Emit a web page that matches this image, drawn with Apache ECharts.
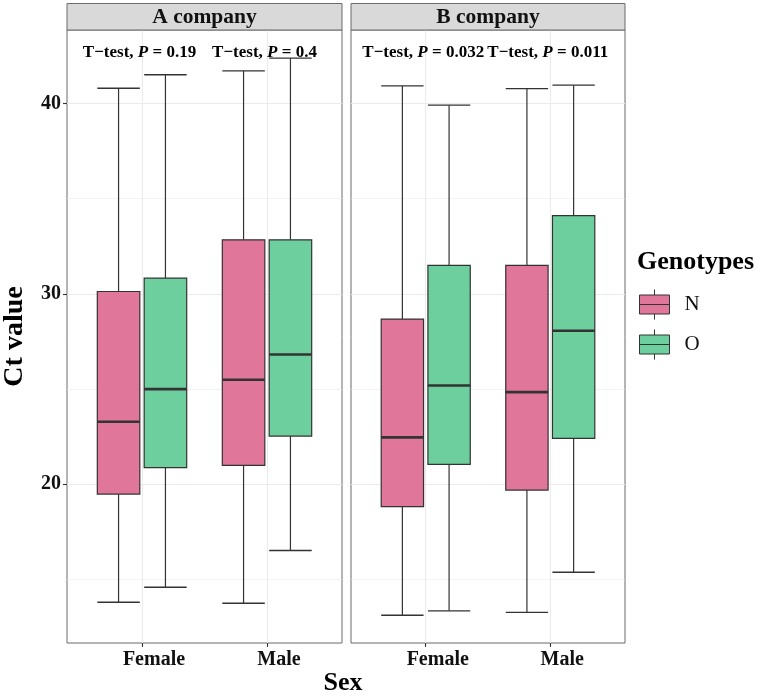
<!DOCTYPE html>
<html><head><meta charset="utf-8">
<script src="https://cdn.jsdelivr.net/npm/echarts@6/dist/echarts.min.js"></script>
<style>html,body{margin:0;padding:0;background:#fff}#c{width:762px;height:696px}</style>
</head><body><div id="c"></div>
<script>
// ---------------- data ----------------
const sexes = ['Female', 'Male'];
const genotypes = ['N', 'O'];
const panels = ['A company', 'B company'];
// each row: [lower whisker, Q1, median, Q3, upper whisker], one row per sex
const aN = [[13.78, 19.47, 23.27, 30.12, 40.81], [13.73, 20.98, 25.48, 32.84, 41.72]];
const aO = [[14.57, 20.86, 24.99, 30.82, 41.52], [16.50, 22.52, 26.81, 32.84, 42.39]];
const bN = [[13.10, 18.81, 22.45, 28.67, 40.93], [13.25, 19.68, 24.83, 31.49, 40.79]];
const bO = [[13.33, 21.03, 25.18, 31.49, 39.92], [15.36, 22.40, 28.06, 34.11, 40.97]];
const pA = ['0.19', '0.4'];
const pB = ['0.032', '0.011'];
const yTicks = [20, 30, 40];
const yMinor = [15, 25, 35];
const xTicks = [1, 2];

// ---------------- style / layout ----------------
const FONT = 'Liberation Serif';
const COLORS = { N: '#E0769A', O: '#6ECF9E' };
const EDGE = '#333333';
const GRIDC = '#EBEBEB';
const BORDER = '#6b6b6b';
const Y_MIN = 11.64, Y_MAX = 43.87;
const X_MIN = 0.4, X_MAX = 2.6;
const BOX_W = 0.34, DODGE = 0.1875;
const LABEL_Y = 42.7;
const G = [
  { left: 67, top: 30, width: 275, height: 613 },
  { left: 351, top: 30, width: 274, height: 613 }
];

function boxSeries(name, rows, idx, offset) {
  const color = COLORS[name];
  return {
    type: 'custom', name, xAxisIndex: idx, yAxisIndex: idx * 2,
    itemStyle: { color },
    data: rows.map((d, i) => [xTicks[i], ...d]),
    encode: { x: 0, y: [1, 2, 3, 4, 5] },
    z: 3,
    renderItem(params, api) {
      const x = api.value(0) + offset;
      const lo = api.coord([x, api.value(1)]);
      const q1 = api.coord([x, api.value(2)]);
      const md = api.coord([x, api.value(3)]);
      const q3 = api.coord([x, api.value(4)]);
      const hi = api.coord([x, api.value(5)]);
      const w = api.size([BOX_W, 0])[0];
      const cx = lo[0], l = cx - w / 2, r = cx + w / 2;
      const line = (x1, y1, x2, y2, lw) => ({ type: 'line', shape: { x1, y1, x2, y2 }, style: { stroke: EDGE, lineWidth: lw } });
      return {
        type: 'group', children: [
          line(cx, hi[1], cx, q3[1], 1.2),
          line(l, hi[1], r, hi[1], 1.4),
          line(cx, q1[1], cx, lo[1], 1.2),
          line(l, lo[1], r, lo[1], 1.4),
          { type: 'rect', shape: { x: l, y: q3[1], width: w, height: q1[1] - q3[1] }, style: { fill: color, stroke: EDGE, lineWidth: 1.2 } },
          line(l, md[1], r, md[1], 2.6)
        ]
      };
    }
  };
}

function labelSeries(pvals, idx) {
  return {
    type: 'custom', xAxisIndex: idx, yAxisIndex: idx * 2, z: 4, silent: true,
    data: pvals.map((p, i) => [xTicks[i] - 0.02, LABEL_Y]),
    renderItem(params, api) {
      const pt = api.coord([api.value(0), api.value(1)]);
      return {
        type: 'text', x: pt[0], y: pt[1],
        style: {
          text: '{b|T\u2212test, }{i|P}{b| = ' + pvals[params.dataIndex] + '}',
          align: 'center', verticalAlign: 'middle',
          rich: {
            b: { fontFamily: FONT, fontWeight: 'bold', fontSize: 17, fill: '#000' },
            i: { fontFamily: FONT, fontWeight: 'bold', fontStyle: 'italic', fontSize: 17, fill: '#000' }
          }
        }
      };
    }
  };
}

const xAxes = G.map((g, i) => ({
  type: 'value', gridIndex: i, min: X_MIN, max: X_MAX,
  axisLine: { show: false },
  axisTick: { show: true, length: 4, customValues: xTicks, lineStyle: { color: EDGE, width: 1.1 } },
  axisLabel: {
    show: true, customValues: xTicks, margin: 7, padding: [0, 0, 0, 24],
    formatter: v => sexes[Math.round(v) - 1],
    fontFamily: FONT, fontWeight: 'bold', fontSize: 20, color: '#111'
  },
  splitLine: { show: true, customValues: xTicks, lineStyle: { color: GRIDC, width: 1.1 } }
}));

const yAxes = [];
G.forEach((g, i) => {
  yAxes.push({
    type: 'value', gridIndex: i, min: Y_MIN, max: Y_MAX, position: 'left',
    name: i === 0 ? 'Ct value' : '', nameLocation: 'middle', nameGap: 38,
    nameTextStyle: { fontFamily: FONT, fontWeight: 'bold', fontSize: 28, color: '#000' },
    axisLine: { show: false },
    axisTick: { show: i === 0, length: 4, customValues: yTicks, lineStyle: { color: EDGE, width: 1.1 } },
    axisLabel: { show: i === 0, customValues: yTicks, margin: 6, fontFamily: FONT, fontWeight: 'bold', fontSize: 20, color: '#111' },
    splitLine: { show: true, customValues: yTicks, lineStyle: { color: GRIDC, width: 1.1 } }
  });
  yAxes.push({
    type: 'value', gridIndex: i, min: Y_MIN, max: Y_MAX, position: 'left',
    axisLine: { show: false },
    axisTick: { show: false, customValues: yMinor },
    axisLabel: { show: false, customValues: yMinor },
    splitLine: { show: true, customValues: yMinor, lineStyle: { color: GRIDC, width: 0.6 } }
  });
});

const ICON = 'path://M15,0L15,5.5M0,5.5L30,5.5L30,24.5L0,24.5ZM0,15L30,15M15,24.5L15,30';

const graphics = [];
G.forEach((g, i) => {
  graphics.push({
    type: 'rect', shape: { x: g.left, y: 3.5, width: g.width, height: g.top - 3.5 },
    style: { fill: '#D9D9D9', stroke: BORDER, lineWidth: 1 }, z: 10
  });
  graphics.push({
    type: 'text', x: g.left + g.width / 2, y: (3.5 + g.top) / 2 + 1, z: 11,
    style: { text: panels[i], align: 'center', verticalAlign: 'middle', fontFamily: FONT, fontWeight: 'bold', fontSize: 21.5, fill: '#111' }
  });
});
graphics.push({
  type: 'text', x: 343, y: 683, z: 11,
  style: { text: 'Sex', align: 'center', verticalAlign: 'middle', fontFamily: FONT, fontWeight: 'bold', fontSize: 26, fill: '#000' }
});
graphics.push({
  type: 'text', x: 637, y: 262, z: 11,
  style: { text: 'Genotypes', align: 'left', verticalAlign: 'middle', fontFamily: FONT, fontWeight: 'bold', fontSize: 26, fill: '#000' }
});

const option = {
  backgroundColor: '#fff',
  animation: false,
  grid: G.map(g => ({ ...g, show: true, backgroundColor: '#fff', borderColor: BORDER, borderWidth: 1, containLabel: false })),
  xAxis: xAxes,
  yAxis: yAxes,
  legend: {
    orient: 'vertical', left: 639, top: 289, padding: 0,
    itemWidth: 30, itemHeight: 30, itemGap: 9, selectedMode: false,
    data: genotypes.map(n => ({ name: n, icon: ICON })),
    itemStyle: { borderColor: EDGE, borderWidth: 1 },
    textStyle: { fontFamily: FONT, fontSize: 21, color: '#111', padding: [0, 0, 0, 10] }
  },
  graphic: graphics,
  series: [
    boxSeries('N', aN, 0, -DODGE),
    boxSeries('O', aO, 0, DODGE),
    boxSeries('N', bN, 1, -DODGE),
    boxSeries('O', bO, 1, DODGE),
    labelSeries(pA, 0),
    labelSeries(pB, 1)
  ]
};

const chart = echarts.init(document.getElementById('c'), null, { renderer: 'canvas' });
chart.setOption(option);
</script>
</body></html>
